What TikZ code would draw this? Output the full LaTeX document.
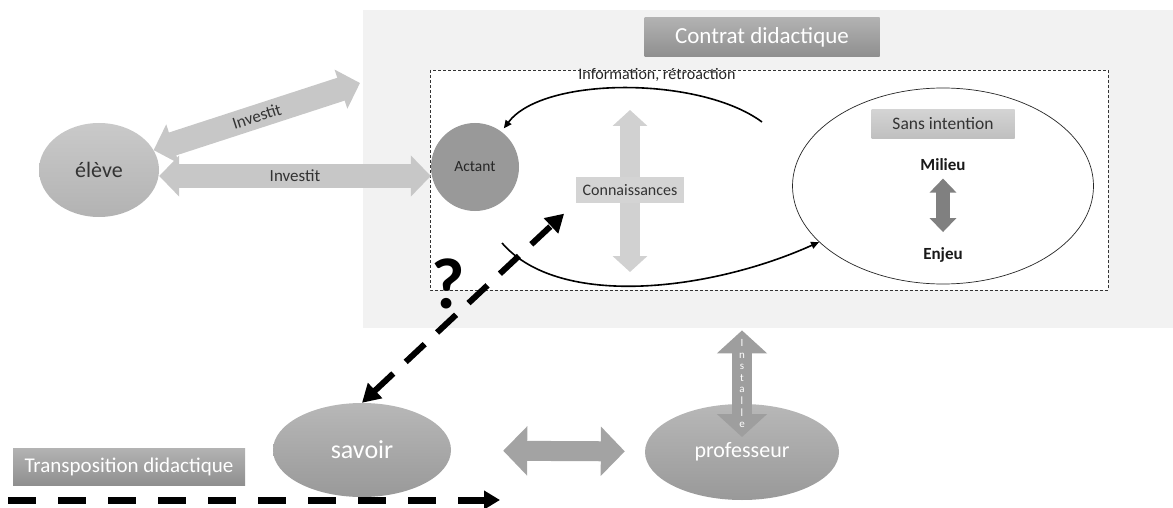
\documentclass[tikz,border=0pt]{standalone}
\usepackage{fontspec}
\setmainfont{Carlito}
\usetikzlibrary{shapes.geometric,arrows.meta}
\newcommand{\tpt}[1]{\fontsize{#1}{#1}\selectfont}
\tikzset{
  zone/.style={fill=black!5, inner sep=0pt},
  etiquette/.style={top color=black!30, bottom color=black!44, text=white, inner sep=0pt},
  bulle/.style={ellipse, top color=black!28, bottom color=black!40, text=white, inner sep=0pt},
  investit/.style={line width=24pt, black!22, {Triangle[length=20pt,width=40pt]}-{Triangle[length=20pt,width=40pt]}},
  flechegrise/.style={line width=20pt, black!36, {Triangle[length=24pt,width=48pt]}-{Triangle[length=24pt,width=48pt]}},
  tirets/.style={line width=6pt, black, dash pattern=on 26pt off 17pt},
  courbe/.style={line width=1.6pt, black, -{Triangle[length=8pt,width=7pt]}}
}
\begin{document}
\begin{tikzpicture}[x=1pt,y=-1pt]
  \useasboundingbox (0,0) rectangle (1173,508);
  % contrat didactique
  \node[zone, minimum width=810pt, minimum height=318pt, anchor=north west] (contrat) at (363,10) {};
  \draw[black!80, line width=0.7pt, dash pattern=on 3pt off 2pt, fill=white] (430,70) rectangle (1108,290);
  \node[etiquette, minimum width=235pt, minimum height=39pt, font=\tpt{23}] (titre) at (762,37) {Contrat didactique};
  \node[font=\tpt{16}, text=black!85] (info) at (657,75) {Information, rétroaction};

  % eleve et actant
  \node[bulle, top color=black!21, bottom color=black!30, text=black!80, minimum width=120pt, minimum height=94pt, font=\tpt{22}] (eleve) at (99,170) {élève};
  \node[circle, fill=black!40, minimum size=88pt, inner sep=0pt, font=\tpt{15.5}, text=black!85] (actant) at (475,167) {Actant};
  \coordinate (bordzone) at (360,83);
  \draw[investit] (eleve.20) -- (bordzone)
    node[midway, sloped, text=black!80, font=\tpt{17}] {Investit};
  \draw[investit] ([yshift=-6pt]eleve.east) -- ([yshift=-9pt]actant.west)
    node[midway, text=black!80, font=\tpt{17}] {Investit};

  % connaissances
  \coordinate (connais) at (630,190);
  \draw[line width=20pt, black!18, {Triangle[length=16pt,width=34pt]}-{Triangle[length=16pt,width=34pt]}]
    ([yshift=80pt]connais) -- ([yshift=-82pt]connais);
  \node[fill=black!17, minimum width=108pt, minimum height=25pt, inner sep=0pt, font=\tpt{16}, text=black!80] (connaisbox) at (connais) {Connaissances};

  % milieu
  \node[ellipse, draw=black!85, line width=0.7pt, fill=white, minimum width=301pt, minimum height=196pt] (environ) at (943,186) {};
  \node[top color=black!17, bottom color=black!25, minimum width=143pt, minimum height=29pt, inner sep=0pt, font=\tpt{17.5}, text=black!80] (sansint) at (943,124) {Sans intention};
  \node[font=\bfseries\tpt{17}, text=black!90] (milieu) at (943,165) {Milieu};
  \node[font=\bfseries\tpt{17}, text=black!90] (enjeu) at (943,255) {Enjeu};
  \draw[line width=14pt, black!50, {Triangle[length=14pt,width=26pt]}-{Triangle[length=14pt,width=26pt]}, shorten <=4pt, shorten >=12pt] (milieu) -- (enjeu);

  % retroaction
  \coordinate (retour) at (762,122);
  \coordinate (depart) at (502,243);
  \draw[courbe, shorten >=4pt] (retour) .. controls (700,76) and (543,76) .. (actant);
  \draw[courbe] (depart) .. controls (560,310) and (713,290) .. (environ);

  % savoir et professeur
  \node[bulle, minimum width=178pt, minimum height=94pt, font=\tpt{26}] (savoir) at (362,450) {savoir};
  \node[bulle, minimum width=194pt, minimum height=96pt, font=\tpt{22}] (professeur) at (742,452) {professeur};
  \draw[flechegrise, shorten <=52pt, shorten >=20pt] (savoir) -- (professeur);
  \draw[flechegrise, black!38, {Triangle[length=23pt,width=49pt]}-{Triangle[length=23pt,width=49pt]}]
    ([yshift=15pt]professeur.center) -- ([yshift=-2pt]professeur.center |- contrat.south)
    node[midway, text=white, font=\fontsize{11}{11.6}\selectfont, align=center] {I\\n\\s\\t\\a\\l\\l\\e};

  % question et transposition
  \node[font=\bfseries\tpt{72}] (question) at (448,284) {?};
  \draw[tirets, {Triangle[length=18pt,width=20pt]}-{Triangle[length=18pt,width=20pt]}, shorten >=16pt]
    (savoir.north) -- (connaisbox.south west);
  \node[etiquette, minimum width=232pt, minimum height=37pt, font=\tpt{21}] (transpo) at (129,467) {Transposition didactique};
  \coordinate (tdebut) at (8,500);
  \coordinate (tfin) at (500,500);
  \draw[tirets, line width=7pt, dash pattern=on 28pt off 22pt, -{Triangle[length=16pt,width=18pt]}] (tdebut) -- (tfin);
\end{tikzpicture}
\end{document}
